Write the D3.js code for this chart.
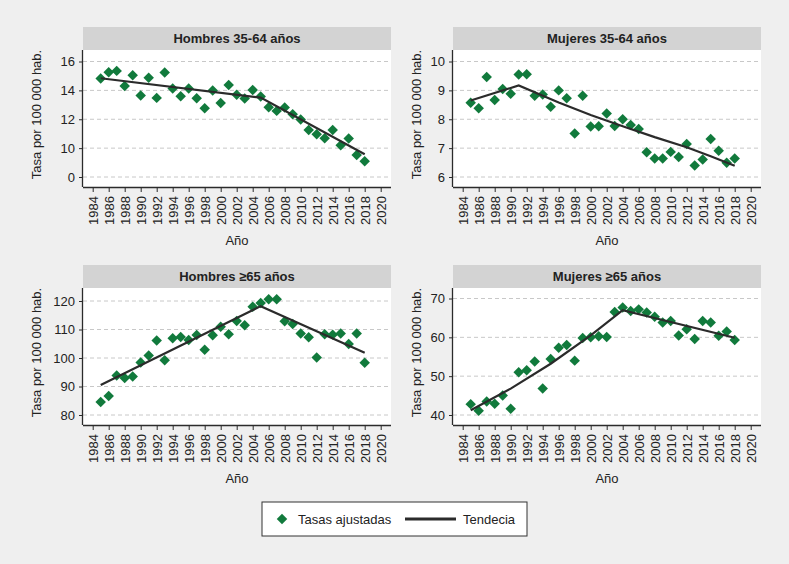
<!DOCTYPE html>
<html>
<head>
<meta charset="utf-8">
<script src="https://cdn.jsdelivr.net/npm/d3@7"></script>
<style>
  body { margin: 0; background: #efefef; }
  text { font-family: "Liberation Sans Narrow", "Arial Narrow", "Liberation Sans", sans-serif; fill: #222; }
</style>
</head>
<body>
<div id="chart"></div>
<script>
// data
var years = d3.range(1985, 2019);

var hombres3564 = [14.82, 15.26, 15.35, 14.31, 15.05, 13.64, 14.87, 13.48, 15.24, 14.13,
  13.6, 14.13, 13.46, 12.76, 13.99, 13.13, 14.38, 13.69, 13.43, 14.03,
  13.57, 12.83, 12.58, 12.81, 12.35, 11.98, 11.26, 10.96, 10.68, 11.26,
  10.2, 10.66, 9.53, 9.09];
var hombres3564Trend = [[1985, 14.84], [2005, 13.5], [2018, 9.57]];

var mujeres3564 = [8.57, 8.38, 9.46, 8.67, 9.05, 8.88, 9.55, 9.56, 8.81, 8.86,
  8.43, 9.0, 8.73, 7.51, 8.81, 7.75, 7.76, 8.2, 7.77, 8.0,
  7.8, 7.66, 6.86, 6.64, 6.64, 6.87, 6.69, 7.14, 6.4, 6.61,
  7.32, 6.91, 6.49, 6.64];
var mujeres3564Trend = [[1985, 8.65], [1991, 9.17], [1996, 8.58], [2000, 8.15], [2004, 7.76],
  [2008, 7.38], [2012, 7.03], [2015, 6.72], [2018, 6.39]];

var hombres65 = [84.6, 86.7, 93.9, 93.0, 93.5, 98.4, 100.9, 106.1, 99.2, 106.9,
  107.4, 106.3, 108.1, 102.9, 108.0, 111.0, 108.3, 113.0, 111.5, 118.0,
  119.3, 120.6, 120.6, 112.9, 111.9, 108.6, 107.3, 100.2, 108.3, 108.2,
  108.6, 104.9, 108.6, 98.3];
var hombres65Trend = [[1985, 90.5], [2005, 118.2], [2018, 101.8]];

var mujeres65 = [42.8, 41.1, 43.5, 42.9, 45.0, 41.6, 51.0, 51.5, 53.8, 46.8,
  54.4, 57.3, 58.0, 54.0, 59.8, 60.0, 60.3, 60.1, 66.5, 67.7,
  66.8, 67.2, 66.4, 65.3, 63.8, 64.2, 60.5, 62.1, 59.6, 64.2,
  63.8, 60.4, 61.5, 59.3];
var mujeres65Trend = [[1985, 41.2], [1990, 46.8], [1995, 53.2], [2000, 60.5], [2004, 67.0], [2018, 59.9]];

var xTicks = d3.range(1984, 2021, 2);

var panelTitles = ["Hombres 35-64 años", "Mujeres 35-64 años", "Hombres ≥65 años", "Mujeres ≥65 años"];
var panelValues = [hombres3564, mujeres3564, hombres65, mujeres65];
var panelTrends = [hombres3564Trend, mujeres3564Trend, hombres65Trend, mujeres65Trend];
var panelYTicks = [[8, 10, 12, 14, 16], [6, 7, 8, 9, 10], [80, 90, 100, 110, 120], [40, 50, 60, 70]];
var panelYLabels = [["0", "10", "12", "14", "16"], ["6", "7", "8", "9", "10"],
  ["80", "90", "100", "110", "120"], ["40", "50", "60", "70"]];

// layout
var svgWidth = 789, svgHeight = 564;
var panelPos = [
  {left: 83, top: 50, titleOff: -47, padTop: 11.5},
  {left: 453, top: 50, titleOff: -37, padTop: 11.5},
  {left: 83, top: 288, titleOff: -47, padTop: 13},
  {left: 453, top: 288, titleOff: -37, padTop: 10.5}
];
var plotW = 308, plotH = 137, headerH = 23;
var green = "#117a3c", lineColor = "#2b2b2b";

var svg = d3.select("#chart").append("svg")
  .attr("width", svgWidth)
  .attr("height", svgHeight);

svg.append("rect").attr("width", svgWidth).attr("height", svgHeight).attr("fill", "#efefef");

var diamond = d3.symbol().type(d3.symbolDiamond2).size(70);

panelPos.forEach(function(p, i) {
  var g = svg.append("g").attr("transform", `translate(${p.left}, ${p.top})`);

  var x = d3.scaleLinear().domain([1984, 2020]).range([9.7, 297.7]);
  var yt = panelYTicks[i];
  var y = d3.scaleLinear().domain([yt[0], yt[yt.length - 1]]).range([plotH - 10, p.padTop]);

  // header
  g.append("rect").attr("x", 0).attr("y", -headerH).attr("width", plotW).attr("height", headerH)
    .attr("fill", "#d3d3d3");
  g.append("text").attr("x", plotW / 2).attr("y", -headerH / 2).attr("dy", "0.35em")
    .attr("text-anchor", "middle").attr("font-size", "13px").attr("font-weight", "bold")
    .text(panelTitles[i]);

  // plot area
  g.append("rect").attr("width", plotW).attr("height", plotH).attr("fill", "#fff");

  // grid
  g.selectAll(".grid").data(yt).enter().append("line")
    .attr("x1", 0).attr("x2", plotW)
    .attr("y1", d => y(d)).attr("y2", d => y(d))
    .attr("stroke", "#c8c8c8").attr("stroke-dasharray", "4,3");

  // axes
  var leftAxis = d3.axisLeft(y).tickValues(yt).tickSize(4).tickPadding(4)
    .tickFormat((d, k) => panelYLabels[i][k]);
  var yAxisG = g.append("g").call(leftAxis);
  yAxisG.select(".domain").attr("d", `M-0.5,0V${plotH}`).attr("stroke", lineColor).attr("stroke-width", 1.3);
  yAxisG.selectAll(".tick line").attr("stroke", lineColor);
  yAxisG.selectAll("text").attr("font-size", "13px").attr("font-family", null).attr("fill", "#222");

  var bottomAxis = d3.axisBottom(x).tickValues(xTicks).tickFormat(d3.format("d")).tickSize(5).tickPadding(3);
  var xAxisG = g.append("g").attr("transform", `translate(0, ${plotH})`).call(bottomAxis);
  xAxisG.select(".domain").attr("d", `M0,0.5H${plotW}`).attr("stroke", lineColor).attr("stroke-width", 1.3);
  xAxisG.selectAll(".tick line").attr("stroke", lineColor);
  xAxisG.selectAll("text")
    .attr("font-size", "13px").attr("font-family", null).attr("fill", "#222")
    .attr("transform", "rotate(-90)")
    .attr("x", -9).attr("y", 0).attr("dy", "0.35em")
    .style("text-anchor", "end");

  // axis titles
  g.append("text")
    .attr("transform", `translate(${p.titleOff}, ${plotH / 2 - 4}) rotate(-90)`)
    .attr("text-anchor", "middle").attr("dy", "0.35em").attr("font-size", "13px")
    .text("Tasa por 100 000 hab.");
  g.append("text").attr("x", plotW / 2).attr("y", plotH + 58)
    .attr("text-anchor", "middle").attr("font-size", "13px").text("Año");

  // points
  g.selectAll(".pt").data(panelValues[i]).enter().append("path")
    .attr("d", diamond)
    .attr("transform", (d, k) => `translate(${x(years[k])}, ${y(d)})`)
    .attr("fill", green);

  // trend
  var line = d3.line().x(d => x(d[0])).y(d => y(d[1]));
  g.append("path").datum(panelTrends[i])
    .attr("d", line).attr("fill", "none")
    .attr("stroke", lineColor).attr("stroke-width", 2.2);
});

// legend
var leg = svg.append("g").attr("transform", "translate(262, 502)");
leg.append("rect").attr("width", 265).attr("height", 34).attr("fill", "#fff")
  .attr("stroke", "#333").attr("stroke-width", 1);
leg.append("path").attr("d", diamond).attr("transform", "translate(20, 17)").attr("fill", green);
leg.append("text").attr("x", 36).attr("y", 17).attr("dy", "0.35em").attr("font-size", "13px")
  .text("Tasas ajustadas");
leg.append("line").attr("x1", 143).attr("x2", 194).attr("y1", 17).attr("y2", 17)
  .attr("stroke", lineColor).attr("stroke-width", 3);
leg.append("text").attr("x", 201).attr("y", 17).attr("dy", "0.35em").attr("font-size", "13px")
  .text("Tendecia");
</script>
</body>
</html>
